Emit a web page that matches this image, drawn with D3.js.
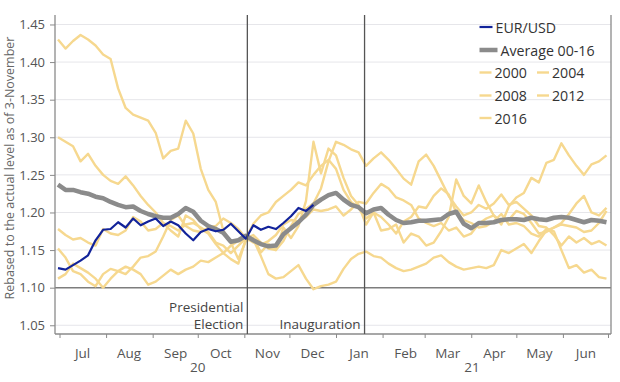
<!DOCTYPE html>
<html><head><meta charset="utf-8">
<script src="https://cdn.jsdelivr.net/npm/d3@7"></script>
<style>body{margin:0;background:#fff}svg{display:block}text{font-family:"Open Sans",sans-serif}</style>
</head><body><svg id="c" width="620" height="382"></svg>
<script>
// sample dates: every 5 days from 30-Jun-2020 to 30-Jun-2021
const dates = d3.timeDay.range(new Date(2020,5,30), new Date(2021,6,1), 5);

const eurusd = [1.126,1.124,1.130,1.136,1.143,1.163,1.177,1.178,1.187,1.180,
  1.192,1.183,1.188,1.192,1.182,1.188,1.183,1.172,1.163,1.174,
  1.178,1.175,1.177,1.185,1.175,1.165,1.183,1.177,1.181,1.178,
  1.186,1.195,1.206,1.202,1.210];

const avg0016 = [1.237,1.230,1.230,1.227,1.225,1.221,1.219,1.214,1.210,1.207,
  1.208,1.202,1.198,1.195,1.193,1.193,1.198,1.206,1.201,1.189,
  1.182,1.178,1.173,1.161,1.163,1.169,1.163,1.158,1.155,1.156,
  1.171,1.179,1.187,1.197,1.210,1.217,1.223,1.226,1.217,1.210,
  1.207,1.199,1.204,1.206,1.197,1.190,1.186,1.187,1.189,1.189,
  1.190,1.191,1.198,1.201,1.185,1.179,1.186,1.186,1.187,1.190,
  1.191,1.191,1.190,1.193,1.191,1.190,1.193,1.194,1.193,1.190,
  1.187,1.190,1.189,1.187];

const y2000 = [1.300,1.294,1.288,1.268,1.278,1.262,1.250,1.242,1.238,1.248,
  1.236,1.222,1.210,1.200,1.186,1.176,1.168,1.196,1.190,1.178,
  1.172,1.158,1.146,1.138,1.132,1.165,1.170,1.160,1.152,1.150,
  1.162,1.182,1.198,1.205,1.212,1.232,1.268,1.294,1.290,1.284,
  1.280,1.262,1.272,1.280,1.270,1.258,1.245,1.237,1.268,1.277,
  1.262,1.242,1.222,1.208,1.196,1.200,1.210,1.205,1.212,1.224,
  1.210,1.214,1.205,1.196,1.182,1.180,1.170,1.156,1.168,1.160,
  1.166,1.158,1.162,1.156];

const y2004 = [1.112,1.118,1.132,1.126,1.120,1.112,1.100,1.112,1.122,1.128,
  1.124,1.118,1.104,1.108,1.116,1.124,1.118,1.124,1.128,1.136,
  1.134,1.140,1.146,1.156,1.162,1.165,1.185,1.196,1.200,1.214,
  1.222,1.230,1.240,1.236,1.250,1.262,1.270,1.258,1.230,1.214,
  1.206,1.192,1.200,1.194,1.184,1.172,1.188,1.194,1.208,1.206,
  1.222,1.232,1.224,1.200,1.190,1.186,1.180,1.182,1.188,1.198,
  1.184,1.186,1.182,1.172,1.168,1.178,1.175,1.150,1.126,1.130,
  1.120,1.124,1.114,1.112];

const y2008 = [1.430,1.418,1.428,1.436,1.430,1.422,1.410,1.404,1.365,1.339,
  1.330,1.326,1.322,1.306,1.272,1.282,1.285,1.322,1.305,1.258,
  1.230,1.214,1.176,1.160,1.138,1.162,1.166,1.147,1.158,1.150,
  1.180,1.166,1.182,1.215,1.294,1.252,1.285,1.276,1.246,1.222,
  1.210,1.184,1.200,1.176,1.178,1.184,1.160,1.172,1.168,1.156,
  1.160,1.175,1.194,1.244,1.222,1.212,1.236,1.214,1.196,1.184,
  1.208,1.220,1.226,1.246,1.240,1.266,1.270,1.292,1.276,1.262,
  1.250,1.264,1.268,1.276];

const y2012 = [1.152,1.140,1.122,1.118,1.108,1.102,1.118,1.125,1.122,1.118,
  1.128,1.140,1.142,1.148,1.168,1.190,1.196,1.182,1.176,1.174,
  1.180,1.182,1.192,1.186,1.178,1.166,1.160,1.157,1.162,1.170,
  1.184,1.190,1.188,1.194,1.204,1.202,1.204,1.208,1.196,1.204,
  1.214,1.212,1.226,1.238,1.232,1.220,1.216,1.210,1.192,1.186,
  1.182,1.186,1.176,1.180,1.168,1.172,1.185,1.192,1.196,1.188,
  1.190,1.202,1.198,1.186,1.172,1.174,1.180,1.186,1.198,1.212,
  1.222,1.200,1.196,1.206];

const y2016 = [1.178,1.170,1.164,1.166,1.160,1.156,1.178,1.172,1.170,1.176,
  1.194,1.188,1.176,1.178,1.186,1.182,1.176,1.184,1.186,1.180,
  1.174,1.160,1.156,1.146,1.156,1.166,1.164,1.142,1.118,1.112,
  1.114,1.122,1.130,1.112,1.098,1.102,1.104,1.108,1.125,1.138,
  1.145,1.148,1.142,1.140,1.132,1.126,1.122,1.124,1.128,1.132,
  1.140,1.143,1.134,1.128,1.124,1.126,1.128,1.126,1.130,1.150,
  1.146,1.152,1.158,1.146,1.162,1.176,1.180,1.184,1.182,1.180,
  1.174,1.176,1.186,1.202];

const yTicks = [1.05,1.10,1.15,1.20,1.25,1.30,1.35,1.40,1.45];
const monthLabels = ["Jul","Aug","Sep","Oct","Nov","Dec","Jan","Feb","Mar","Apr","May","Jun"];
const yearLabels = ["20","21"];
const events = [{date:new Date(2020,10,3), lines:["Presidential","Election"]},
                {date:new Date(2021,0,20), lines:["Inauguration"]}];
const yellowSeries = [y2000,y2004,y2008,y2012,y2016];

const C = {blue:"#12239a", gray:"#8b8b8b", yellow:"#f6d88f", text:"#444", axis:"#8a8a8a"};

const svg = d3.select("#c");
const L=55, R=611, T=15, B=334;
const x = d3.scaleTime().domain([new Date(2020,5,28), new Date(2021,6,3)]).range([L,R]);
const y = d3.scaleLinear().domain([1.0384,1.4626]).range([B,T]);

// gridlines
svg.append("g").selectAll("line").data(yTicks).join("line")
  .attr("x1",L).attr("x2",R).attr("y1",d=>y(d)).attr("y2",d=>y(d))
  .attr("stroke",d=>d===1.10?"#7d7d7d":"#e6e6ea").attr("stroke-width",d=>d===1.10?1.5:1);

// series
const line = d3.line().x((d,i)=>x(dates[i])).y(d=>y(d));
svg.append("g").selectAll("path").data(yellowSeries).join("path")
  .attr("d",line).attr("fill","none").attr("stroke",C.yellow).attr("stroke-width",2.4)
  .attr("stroke-linejoin","round");
svg.append("path").attr("d",line(avg0016)).attr("fill","none").attr("stroke",C.gray)
  .attr("stroke-width",4.5).attr("stroke-linejoin","round");
svg.append("path").attr("d",line(eurusd)).attr("fill","none").attr("stroke",C.blue)
  .attr("stroke-width",2.2).attr("stroke-linejoin","round");

// frame
const frame = svg.append("g").attr("stroke",C.axis).attr("stroke-width",1.3);
frame.append("line").attr("x1",L).attr("x2",L).attr("y1",T).attr("y2",B);
frame.append("line").attr("x1",R).attr("x2",R).attr("y1",T).attr("y2",B);
frame.append("line").attr("x1",L).attr("x2",R).attr("y1",B).attr("y2",B);

// event lines
events.forEach(e=>{
  svg.append("line").attr("x1",x(e.date)).attr("x2",x(e.date)).attr("y1",T).attr("y2",B)
    .attr("stroke","#555").attr("stroke-width",1.3);
  const t = svg.append("text").attr("text-anchor","end").attr("fill",C.text).attr("font-size",13.5);
  e.lines.forEach((s,k)=>{
    t.append("tspan").attr("x",x(e.date)-4).attr("y",B-5-(e.lines.length-1-k)*17).text(s);
  });
});

// y axis
const ya = svg.append("g").attr("transform",`translate(${L},0)`)
  .call(d3.axisLeft(y).tickValues(yTicks).tickFormat(d3.format(".2f")).tickSize(5).tickPadding(5));
ya.select(".domain").remove();
ya.selectAll(".tick line").attr("stroke",C.axis);
ya.selectAll("text").attr("fill","#555").attr("font-size",13).attr("font-family","Open Sans");

// x axis ticks at month starts
const monthStarts = d3.timeMonth.range(new Date(2020,6,1), new Date(2021,6,2));
const xa = svg.append("g").attr("transform",`translate(0,${B})`)
  .call(d3.axisBottom(x).tickValues(monthStarts).tickFormat("").tickSize(4));
xa.select(".domain").remove();
xa.selectAll(".tick line").attr("stroke",C.axis);

// month labels at mid-month
const midMonths = monthStarts.slice(0,12).map(d=>d3.timeDay.offset(d,15));
const xl = svg.append("g").attr("transform",`translate(0,${B})`)
  .call(d3.axisBottom(x).tickValues(midMonths).tickFormat((d,i)=>monthLabels[i]).tickSize(0).tickPadding(14));
xl.select(".domain").remove();
xl.selectAll("text").attr("fill","#555").attr("font-size",13.5).attr("font-family","Open Sans");

// year labels
const yearSpans = [[monthStarts[0],monthStarts[6]],[monthStarts[6],monthStarts[12]]];
svg.append("g").selectAll("text").data(yearLabels).join("text")
  .attr("x",(d,i)=>(x(yearSpans[i][0])+x(yearSpans[i][1]))/2).attr("y",372)
  .attr("text-anchor","middle").attr("fill","#555").attr("font-size",13.5).text(d=>d);

// y label
svg.append("text").attr("transform","translate(14,168) rotate(-90)").attr("text-anchor","middle")
  .attr("fill","#666").attr("font-size",12.5).text("Rebased to the actual level as of 3-November");

// legend
const lg = svg.append("g").attr("font-size",14.2).attr("fill","#333");
const rowY = [27,50,72.5,95.5,118];
const items = [
  {row:0,col:0,label:"EUR/USD",color:C.blue,w:2.2,len:13},
  {row:1,col:0,label:"Average 00-16",color:C.gray,w:4.5,len:18},
  {row:2,col:0,label:"2000",color:C.yellow,w:2.4,len:12},
  {row:2,col:1,label:"2004",color:C.yellow,w:2.4,len:12},
  {row:3,col:0,label:"2008",color:C.yellow,w:2.4,len:12},
  {row:3,col:1,label:"2012",color:C.yellow,w:2.4,len:12},
  {row:4,col:0,label:"2016",color:C.yellow,w:2.4,len:12}];
items.forEach(it=>{
  const x0 = it.col===0?479.5:537;
  const yy = rowY[it.row];
  lg.append("line").attr("x1",x0).attr("x2",x0+it.len).attr("y1",yy).attr("y2",yy)
    .attr("stroke",it.color).attr("stroke-width",it.w);
  lg.append("text").attr("x",x0+it.len+3).attr("y",yy+5.5).text(it.label);
});
</script></body></html>
